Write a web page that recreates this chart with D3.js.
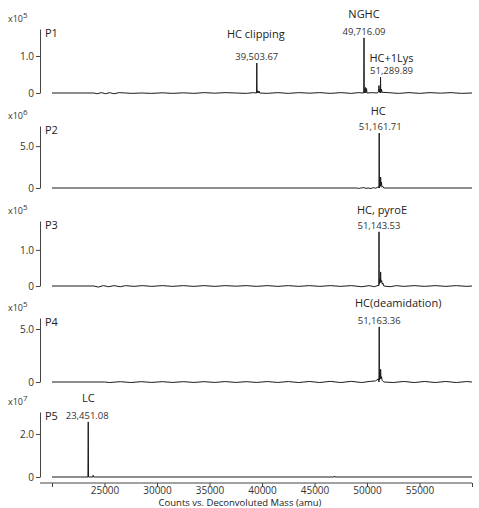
<!DOCTYPE html>
<html>
<head>
    <style>
        body { margin: 0; background: #fff; }
        svg text { font-family: "Open Sans", sans-serif; fill: #222; }
        .axis path, .axis line { stroke: #444; }
        .axis text { font-size: 10px; fill: #333; }
        .trace { fill: none; stroke: #1a1a1a; stroke-width: 1; }
        .name { font-size: 11px; text-anchor: middle; }
        .mass { font-size: 9.5px; text-anchor: middle; fill: #333; }
        .plabel { font-size: 11px; }
        .expo { font-size: 9px; fill: #333; }
    </style>
    <script src="https://d3js.org/d3.v7.min.js"></script>
</head>
<body>
    <script>
        // ---- data ----
        var panelNames = ["P1", "P2", "P3", "P4", "P5"];
        var exponents = [5, 6, 5, 5, 7];
        var yTicks = [1.0, 5.0, 1.0, 5.0, 2.0];
        var yMax = [1.73, 7.4, 1.8, 6.04, 3.02];
        var massTicks = [20000, 25000, 30000, 35000, 40000, 45000, 50000, 55000, 60000];
        var xTitle = "Counts vs. Deconvoluted Mass (amu)";

        var p1Spectrum = [[20000,0],[24000,0],[24300,-0.02],[24700,0.01],[25100,-0.02],[25500,0.01],[25900,-0.02],[26400,0.01],
            [27000,0],[27600,-0.01],[28500,0],[29500,-0.01],[30500,0.005],[31500,-0.01],[32500,0.005],[33500,-0.01],[34500,0.01],
            [35500,-0.005],[36500,0.01],[37500,0],[38500,-0.01],[39200,0.01],[39480,0],[39503.67,0.81],[39530,0],[39600,0.06],
            [39650,0],[39720,0.05],[39780,0],[40500,-0.01],[41500,0.01],[42500,-0.01],[43500,0.01],[44500,-0.005],[45500,0.01],
            [46500,-0.01],[47500,0.01],[48500,-0.01],[49200,0.01],[49690,0],[49716.09,1.49],[49740,0],[49850,0.15],[49880,0],
            [49960,0.12],[49990,0],[50500,0.01],[51000,0],[51100,0.05],[51140,0.2],[51170,0.02],[51200,0.1],[51240,0.03],
            [51270,0],[51289.89,0.43],[51310,0],[51380,0.1],[51420,0.02],[52000,0.01],[53000,-0.01],[54000,0.01],[55000,-0.01],
            [56000,0.01],[57000,-0.005],[58000,0.01],[59000,-0.01],[60000,0]];
        var p2Spectrum = [[20000,0],[49000,0],[49200,-0.05],[49400,0],[49700,0.04],[49900,-0.04],[50100,0],[50400,-0.06],
            [50600,0.05],[50800,-0.03],[51000,0.08],[51100,0.15],[51140,0],[51161.71,6.55],[51185,0],[51240,0.6],[51270,0.2],
            [51300,1.3],[51330,0.3],[51380,0.7],[51420,0.1],[51500,0.2],[51600,0],[60000,0]];
        var p3Spectrum = [[20000,0],[24000,0],[24400,-0.03],[24900,0.01],[25400,-0.02],[25900,0.01],[26500,-0.02],[27000,0.01],
            [27800,-0.01],[28600,0.01],[29500,-0.01],[30500,0.01],[31500,-0.01],[32500,0.01],[33500,-0.01],[34500,0.01],
            [35500,-0.01],[36500,0.01],[37500,-0.005],[38500,0.01],[39500,-0.01],[40500,0.01],[41500,-0.01],[42500,0.01],
            [43500,-0.01],[44500,0.01],[45500,-0.01],[46500,0.01],[47500,-0.01],[48500,0.01],[49500,-0.02],[50200,0.01],
            [50700,-0.02],[51100,0.02],[51125,0],[51143.53,1.5],[51165,0.05],[51230,0.2],[51260,0.1],[51300,0.39],[51330,0.1],
            [51400,0.15],[51450,0.05],[51520,0.08],[51600,0],[52200,-0.02],[52800,0.01],[53500,-0.01],[54500,0.01],[55500,-0.01],
            [56500,0.01],[57500,-0.01],[58500,0.01],[59500,-0.01],[60000,0]];
        var p4Spectrum = [[20000,0],[25000,0],[25500,-0.05],[26500,0.03],[27500,-0.05],[28500,0.03],[29500,-0.04],[30500,0.03],
            [31500,-0.04],[32500,0.03],[33500,-0.04],[34500,0.03],[35500,-0.04],[36500,0.04],[37500,-0.04],[38500,0.03],
            [39500,-0.04],[40500,0.04],[41500,-0.04],[42500,0.04],[43500,-0.05],[44500,0.05],[45500,-0.05],[46500,0.06],
            [47500,-0.05],[48500,0.06],[49500,-0.05],[50300,0.06],[50800,0.1],[51100,0.3],[51140,0],[51163.36,5.2],[51185,0.2],
            [51230,1.0],[51260,0.3],[51300,1.2],[51330,0.3],[51380,0.5],[51450,0.15],[51600,0],[52500,-0.05],[53500,0.05],
            [54500,-0.05],[55500,0.05],[56500,-0.05],[57500,0.05],[58500,-0.05],[59500,0.04],[60000,0]];
        var p5Spectrum = [[20000,0],[23420,0],[23451.08,2.56],[23480,0],[23880,0],[23920,0.08],[23960,0],[46850,0],
            [46900,0.05],[46950,0],[60000,0]];
        var spectra = [p1Spectrum, p2Spectrum, p3Spectrum, p4Spectrum, p5Spectrum];

        var p1Peaks = [{name: "HC clipping", mass: 39503.67, height: 0.81},
                       {name: "NGHC", mass: 49716.09, height: 1.49},
                       {name: "HC+1Lys", mass: 51289.89, height: 0.43}];
        var p2Peaks = [{name: "HC", mass: 51161.71, height: 6.55}];
        var p3Peaks = [{name: "HC, pyroE", mass: 51143.53, height: 1.5}];
        var p4Peaks = [{name: "HC(deamidation)", mass: 51163.36, height: 5.2}];
        var p5Peaks = [{name: "LC", mass: 23451.08, height: 2.56}];
        var peaks = [p1Peaks, p2Peaks, p3Peaks, p4Peaks, p5Peaks];

        // ---- layout ----
        var width = 479, height = 508;
        var axisX = 40;
        var panelTop = [29, 126, 221, 318, 412];
        var panelZero = [93, 188, 286, 382, 477];
        // label offsets per peak: [dx name, dx mass, gap mass->name]
        var labelShift = [
            [[-1, 0, 22], [0, 0, 17], [11, 11, 12]],
            [[-1, 1, 15]],
            [[3, 0, 15]],
            [[19, 0, 17]],
            [[0, -1, 17]]
        ];

        var svg = d3.select("body").append("svg")
            .attr("width", width).attr("height", height);

        var x = d3.scaleLinear().domain([20000, 60000]).range([52, 472]);

        panelNames.forEach(function(pname, i) {
            var y = d3.scaleLinear().domain([0, yMax[i]]).range([panelZero[i], panelTop[i]]);
            var g = svg.append("g");

            var yAxis = d3.axisLeft(y)
                .tickValues([0, yTicks[i]])
                .tickSize(4)
                .tickSizeOuter(0)
                .tickPadding(2)
                .tickFormat(function(d) { return d === 0 ? "0" : d3.format(".1f")(d); });
            g.append("g").attr("class", "axis")
                .attr("transform", "translate(" + axisX + ",0)")
                .call(yAxis);

            var ex = g.append("text").attr("class", "expo")
                .attr("x", 8).attr("y", panelTop[i] - 7);
            ex.append("tspan").text("x10");
            ex.append("tspan").attr("dy", -4).attr("font-size", "8px").text(exponents[i]);

            g.append("text").attr("class", "plabel")
                .attr("x", 45).attr("y", panelTop[i] + 8)
                .text(pname);

            var line = d3.line()
                .x(function(d) { return x(d[0]); })
                .y(function(d) { return y(d[1]); });
            g.append("path").attr("class", "trace")
                .attr("d", line(spectra[i]));

            peaks[i].forEach(function(p, j) {
                var s = labelShift[i][j];
                var top = y(p.height);
                g.append("text").attr("class", "mass")
                    .attr("x", x(p.mass) + s[1]).attr("y", top - 3)
                    .text(d3.format(",.2f")(p.mass));
                g.append("text").attr("class", "name")
                    .attr("x", x(p.mass) + s[0]).attr("y", top - 3 - s[2])
                    .text(p.name);
            });
        });

        // mass axis
        var xAxis = d3.axisBottom(x)
            .tickValues(massTicks)
            .tickSize(4)
            .tickSizeOuter(0)
            .tickPadding(0)
            .tickFormat(function(d) { return (d === 20000 || d === 60000) ? "" : d; });
        var xg = svg.append("g").attr("class", "axis")
            .attr("transform", "translate(0,483)")
            .call(xAxis);
        xg.select(".domain").remove();
        xg.append("line").attr("x1", axisX).attr("x2", x(60000))
            .attr("y1", 0).attr("y2", 0).attr("stroke", "#444");

        svg.append("text")
            .attr("x", 240).attr("y", 506)
            .attr("text-anchor", "middle")
            .attr("font-size", "9.5px")
            .attr("fill", "#333")
            .text(xTitle);
    </script>
</body>
</html>
